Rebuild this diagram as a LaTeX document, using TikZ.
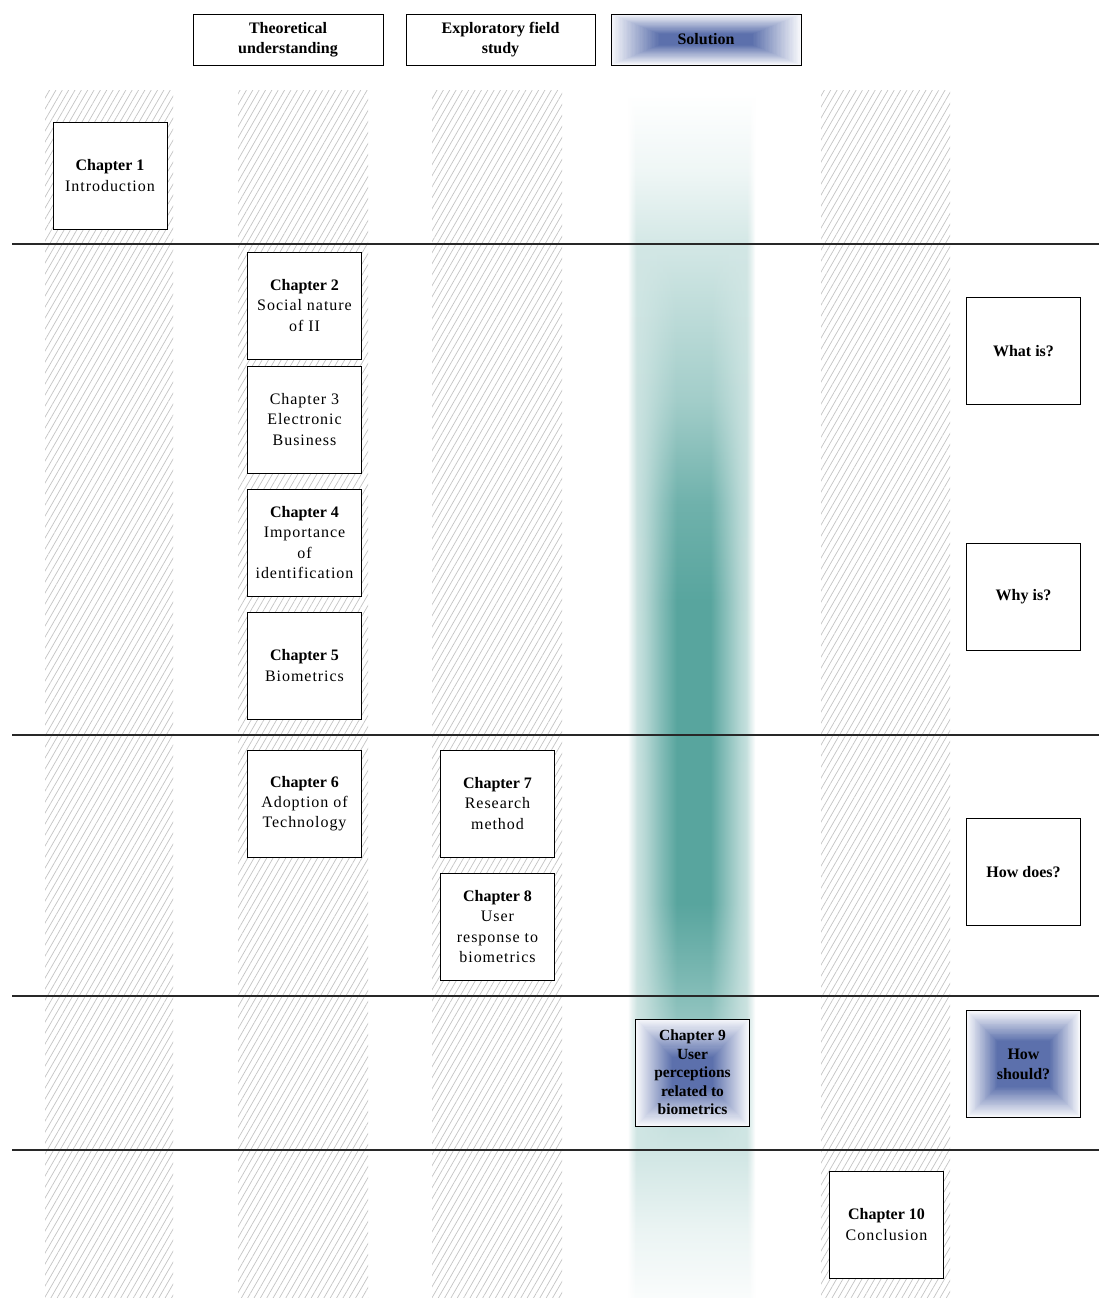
\documentclass[tikz,border=0pt]{standalone}
\usepackage{fontspec}
\setmainfont{Liberation Serif}[LetterSpace=6, BoldFeatures={LetterSpace=0}]
\usetikzlibrary{patterns.meta,fadings}

\definecolor{solteal}{RGB}{88,165,158}
\definecolor{solblue}{RGB}{92,112,172}
\definecolor{hatchgray}{RGB}{196,196,196}
\definecolor{rulegray}{RGB}{40,40,40}

% solution column, pale outer band (path maps to 25bp..75bp)
\pgfdeclareverticalshading{solpale}{100bp}{%
  color(0bp)=(white); color(25bp)=(solteal!3!white);
  color(27.8bp)=(solteal!12!white); color(31.1bp)=(solteal!28!white);
  color(62.2bp)=(solteal!30!white); color(68.6bp)=(solteal!27!white);
  color(71.7bp)=(solteal!10!white); color(75bp)=(white); color(100bp)=(white)}

% solution column, dense core
\pgfdeclareverticalshading{solcore}{100bp}{%
  color(0bp)=(white); color(25bp)=(solteal!3!white);
  color(27.8bp)=(solteal!12!white); color(31.1bp)=(solteal!28!white);
  color(33.9bp)=(solteal!44!white); color(38.5bp)=(solteal!80!white);
  color(41.4bp)=(solteal); color(53.9bp)=(solteal);
  color(58bp)=(solteal!86!white); color(62.2bp)=(solteal!56!white);
  color(68.6bp)=(solteal!27!white);
  color(71.7bp)=(solteal!10!white); color(75bp)=(white); color(100bp)=(white)}

% narrow soft edges of the pale band
\pgfdeclarehorizontalshading{edgefadeshade}{100bp}{%
  color(0bp)=(pgftransparent!100); color(25bp)=(pgftransparent!100);
  color(26.5bp)=(pgftransparent!50); color(28.5bp)=(pgftransparent!0);
  color(71.5bp)=(pgftransparent!0); color(73.5bp)=(pgftransparent!50);
  color(75bp)=(pgftransparent!100); color(100bp)=(pgftransparent!100)}
\pgfdeclarefading{edgefade}{\pgfuseshading{edgefadeshade}}

% wide soft edges of the core
\pgfdeclarehorizontalshading{corefadeshade}{100bp}{%
  color(0bp)=(pgftransparent!100); color(27.8bp)=(pgftransparent!100);
  color(31.7bp)=(pgftransparent!80); color(37.6bp)=(pgftransparent!40);
  color(44.3bp)=(pgftransparent!0); color(57.3bp)=(pgftransparent!0);
  color(63.2bp)=(pgftransparent!40); color(69.1bp)=(pgftransparent!80);
  color(73bp)=(pgftransparent!100); color(100bp)=(pgftransparent!100)}
\pgfdeclarefading{corefade}{\pgfuseshading{corefadeshade}}

% rectangular blue glow: x1,y1,x2,y2,inset x,inset y
\newcommand\glowrect[6]{%
  \foreach \k in {0,...,36}{%
    \pgfmathsetmacro\ff{\k/36}%
    \pgfmathsetmacro\pc{5+95*\ff}%
    \fill[solblue!\pc!white] ({#1+\ff*#5},{#2+\ff*#6}) rectangle ({#3-\ff*#5},{#4-\ff*#6});
  }%
}

\begin{document}
\begin{tikzpicture}[x=1pt,y=-1pt,
  hatchcol/.style={pattern={Lines[angle=60,distance=5.5pt,line width=0.7pt]},
                   pattern color=hatchgray},
  chapbox/.style={draw=black, line width=0.9pt, fill=white,
                  minimum width=114pt, minimum height=107pt, inner sep=0pt,
                  align=center, font=\fontsize{16}{20.3}\selectfont},
  glowbox/.style={chapbox, fill=none},
  headbox/.style={draw=black, line width=0.9pt, fill=white,
                  minimum width=190pt, minimum height=51pt, inner sep=0pt,
                  align=center, font=\bfseries\fontsize{16}{20}\selectfont},
  tightbold/.style={font=\bfseries\fontsize{15.5}{18.5}\selectfont},
  rule/.style={draw=rulegray, line width=1.3pt}]

\useasboundingbox[fill=white] (0,0) rectangle (1099,1298);

% hatched columns
\fill[hatchcol] (45,90) rectangle (173,1298);
\fill[hatchcol] (238,90) rectangle (368,1298);
\fill[hatchcol] (432,90) rectangle (562,1298);
\fill[hatchcol] (821,90) rectangle (950,1298);

% solution column: pale band with a denser core on top
\shade[shading=solpale, path fading=edgefade] (628,90) rectangle (755,1298);
\shade[shading=solcore, path fading=corefade] (628,90) rectangle (755,1298);

% phase separators
\draw[rule] (12,244) -- (1099,244);
\draw[rule] (12,735) -- (1099,735);
\draw[rule] (12,996) -- (1099,996);
\draw[rule] (12,1150) -- (1099,1150);

% column headers
\node[headbox] (theo) at (288,39.5) {Theoretical\\understanding};
\node[headbox, minimum width=189pt] (expl) at (500.5,39.5) {Exploratory field\\study};
\glowrect{611}{14}{801}{65}{48}{20}
\node[headbox, fill=none] (sol) at (706,39.5) {Solution};

% chapters
\node[chapbox] (c1) at (110,175.5) {\textbf{Chapter 1}\\Introduction};
\node[chapbox] (c2) at (304.5,305.5) {\textbf{Chapter 2}\\Social nature\\of II};
\node[chapbox] (c3) at (304.5,419.5) {Chapter 3\\Electronic\\Business};
\node[chapbox] (c4) at (304.5,542.5) {\textbf{Chapter 4}\\Importance\\of\\identification};
\node[chapbox] (c5) at (304.5,665.5) {\textbf{Chapter 5}\\Biometrics};
\node[chapbox] (c6) at (304.5,803.5) {\textbf{Chapter 6}\\Adoption of\\Technology};
\node[chapbox] (c7) at (497.5,803.5) {\textbf{Chapter 7}\\Research\\method};
\node[chapbox] (c8) at (497.5,926.5) {\textbf{Chapter 8}\\User\\response to\\biometrics};
\glowrect{636}{1019}{749}{1126}{36}{38}
\node[glowbox, tightbold] (c9) at (692.5,1072.5)
  {Chapter 9\\User\\perceptions\\related to\\biometrics};
\node[chapbox] (c10) at (886.5,1224.5) {\textbf{Chapter 10}\\Conclusion};

% guiding questions
\node[chapbox, font=\bfseries\fontsize{16}{20}\selectfont] (qwhat) at (1023.5,351) {What is?};
\node[chapbox, font=\bfseries\fontsize{16}{20}\selectfont] (qwhy) at (1023.5,596.5) {Why is?};
\node[chapbox, font=\bfseries\fontsize{16}{20}\selectfont] (qhow) at (1023.5,872) {How does?};
\glowrect{967}{1011}{1080}{1117}{30}{30}
\node[glowbox, font=\bfseries\fontsize{16}{20}\selectfont] (qshould) at (1023.5,1064) {How\\should?};

\end{tikzpicture}
\end{document}
